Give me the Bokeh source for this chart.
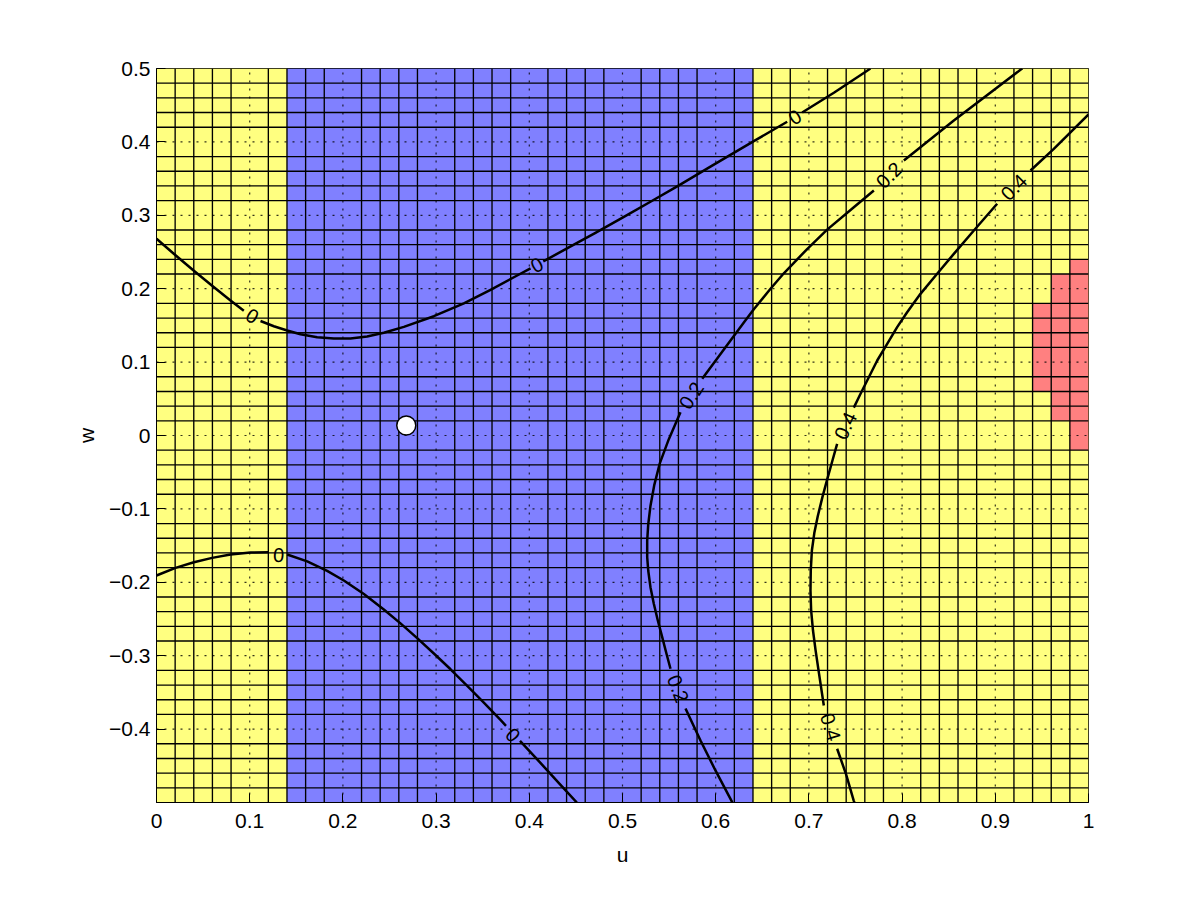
import math
from bokeh.plotting import figure
from bokeh.models import Range1d, FixedTicker, ColumnDataSource
from bokeh.core.properties import value
from bokeh.embed import file_html
from bokeh.resources import INLINE

nan = float("nan")

# ---- cell grid specification ----
N_U, N_W = 50, 50
U_MIN, U_MAX = 0.0, 1.0
W_MIN, W_MAX = -0.5, 0.5

# colour bands of the cells (u boundaries) and their colours
BAND_EDGES = [0.0, 0.14, 0.64, 1.0]
BAND_COLORS = ["#FFFF80", "#8080FF", "#FFFF80"]

# red cells: one column each (u_left, w_bottom, w_top)
RED_U_LEFT = [0.94, 0.96, 0.98]
RED_W_BOTTOM = [0.06, 0.02, -0.02]
RED_W_TOP = [0.18, 0.22, 0.24]
RED_COLOR = "#FF8080"

# ---- ticks ----
X_TICKS = [0, 0.1, 0.2, 0.3, 0.4, 0.5, 0.6, 0.7, 0.8, 0.9, 1]
X_TICK_LABELS = ["0", "0.1", "0.2", "0.3", "0.4", "0.5", "0.6", "0.7", "0.8", "0.9", "1"]
Y_TICKS = [-0.4, -0.3, -0.2, -0.1, 0, 0.1, 0.2, 0.3, 0.4, 0.5]
Y_TICK_LABELS = ["\u22120.4", "\u22120.3", "\u22120.2", "\u22120.1", "0", "0.1", "0.2", "0.3", "0.4", "0.5"]

# ---- contour lines (NaN = gap for inline label) ----
C0_UPPER_U = [0.0000, 0.0204, 0.0401, 0.0597, 0.0794, 0.0937, nan,
              0.1116, 0.1259, 0.1402, 0.1545, 0.1724, 0.1903, 0.2081, 0.2260, 0.2439, 0.2654, 0.2976,
              0.3298, 0.3584, 0.3870, 0.4013, nan,
              0.4150, 0.4424, 0.4700, 0.4996, 0.5300, 0.5587, 0.5980, 0.6409, 0.6767, nan,
              0.6928, 0.7268, 0.7625, 0.7660]
C0_UPPER_W = [0.2680, 0.2455, 0.2245, 0.2040, 0.1840, 0.1700, nan,
              0.1560, 0.1488, 0.1430, 0.1380, 0.1340, 0.1320, 0.1322, 0.1350, 0.1400, 0.1480, 0.1625,
              0.1800, 0.1985, 0.2180, 0.2277, nan,
              0.2372, 0.2562, 0.2755, 0.2965, 0.3185, 0.3395, 0.3690, 0.4010, 0.4275, nan,
              0.4400, 0.4670, 0.4970, 0.5000]

C0_LOWER_U = [0.0000, 0.0204, 0.0401, 0.0597, 0.0794, 0.1009, 0.1205, nan,
              0.1402, 0.1617, 0.1831, 0.2010, 0.2225, 0.2439, 0.2618, 0.2797, 0.2976, 0.3155, 0.3334,
              0.3512, 0.3691, 0.3750, nan,
              0.3900, 0.4156, 0.4335, 0.4510]
C0_LOWER_W = [-0.1907, -0.1803, -0.1726, -0.1667, -0.1621, -0.1594, -0.1590, nan,
              -0.1621, -0.1715, -0.1845, -0.1975, -0.2160, -0.2370, -0.2560, -0.2760, -0.2970, -0.3185, -0.3410,
              -0.3640, -0.3875, -0.3955, nan,
              -0.4160, -0.4510, -0.4760, -0.5000]

C02_U = [0.9290, 0.9270, 0.8555, 0.8019, nan,
         0.7697, 0.7482, 0.7196, 0.6981, 0.6731, 0.6588, 0.6409, 0.6302, 0.6159, 0.6016, 0.5855, nan,
         0.5622, 0.5497, 0.5400, 0.5340, 0.5300, 0.5276, 0.5265, 0.5265, 0.5276, 0.5300, 0.5336,
         0.5379, 0.5426, 0.5472, 0.5515, nan,
         0.5676, 0.5837, 0.6000, 0.6177, 0.6180]
C02_W = [0.5000, 0.4982, 0.4292, 0.3747, nan,
         0.3338, 0.3110, 0.2805, 0.2540, 0.2210, 0.2000, 0.1720, 0.1540, 0.1294, 0.1050, 0.0772, nan,
         0.0317, -0.0050, -0.0380, -0.0680, -0.0960, -0.1210, -0.1431, -0.1658, -0.1839, -0.2066, -0.2293,
         -0.2520, -0.2747, -0.2974, -0.3178, nan,
         -0.3720, -0.4155, -0.4570, -0.4996, -0.5000]

C04_U = [1.0000, 0.9628, 0.9378, nan,
         0.9020, 0.8770, 0.8555, 0.8376, 0.8197, 0.8054, 0.7947, 0.7840, 0.7733, 0.7643, 0.7554, 0.7482, nan,
         0.7303, 0.7255, 0.7200, 0.7145, 0.7095, 0.7058, 0.7032, 0.7020, 0.7017, 0.7024, 0.7044, 0.7071,
         0.7107, 0.7160, nan,
         0.7303, 0.7400, 0.7480, 0.7488]
C04_W = [0.4375, 0.3906, 0.3610, nan,
         0.3157, 0.2793, 0.2475, 0.2203, 0.1930, 0.1680, 0.1476, 0.1249, 0.1022, 0.0794, 0.0568, 0.0380, nan,
         -0.0114, -0.0330, -0.0580, -0.0840, -0.1100, -0.1330, -0.1567, -0.1839, -0.2112, -0.2384, -0.2657, -0.2920,
         -0.3230, -0.3678, nan,
         -0.4268, -0.4620, -0.4970, -0.5000]

# ---- inline contour labels ----
LABEL_U = [0.1027, 0.4080, 0.6848, 0.1310, 0.3825, 0.7860, 0.5738, 0.5596, 0.9200, 0.7392, 0.7232]
LABEL_W = [0.1630, 0.2325, 0.4338, -0.1630, -0.4080, 0.3545, 0.0545, -0.3449, 0.3383, 0.0133, -0.3973]
LABEL_TEXT = ["0", "0", "0", "0", "0", "0.2", "0.2", "0.2", "0.4", "0.4", "0.4"]
LABEL_ANGLE = [-30, 28, 33, -3, -47, 45, 57, -69, 45, 65, -73]

# ---- marker ----
MARKER_U = [0.268]
MARKER_W = [0.0136]

FONT = "Liberation Sans"

p = figure(
    frame_width=932, frame_height=734,
    x_range=Range1d(U_MIN, U_MAX), y_range=Range1d(W_MIN, W_MAX),
    output_backend="svg", toolbar_location=None,
    min_border_left=156, min_border_top=68, min_border_right=105, min_border_bottom=91,
    background_fill_color="white", border_fill_color="white",
)
p.outline_line_color = "black"
p.outline_line_width = 1
p.grid.grid_line_color = None

# cells (colour regions)
p.quad(left=BAND_EDGES[:-1], right=BAND_EDGES[1:], bottom=[W_MIN] * len(BAND_COLORS),
       top=[W_MAX] * len(BAND_COLORS), fill_color=BAND_COLORS, line_color=None)
du = (U_MAX - U_MIN) / N_U
p.quad(left=RED_U_LEFT, right=[u + du for u in RED_U_LEFT], bottom=RED_W_BOTTOM, top=RED_W_TOP,
       fill_color=RED_COLOR, line_color=None)

# cell edges (solid), except where a dotted grid line lies
dw = (W_MAX - W_MIN) / N_W
def on_tick(v, ticks):
    return any(abs(v - t) < 1e-9 for t in ticks)
mesh_u = [U_MIN + i * du for i in range(1, N_U) if not on_tick(U_MIN + i * du, X_TICKS)]
mesh_w = [W_MIN + j * dw for j in range(1, N_W) if not on_tick(W_MIN + j * dw, Y_TICKS)]
p.segment(x0=mesh_u, x1=mesh_u, y0=[W_MIN] * len(mesh_u), y1=[W_MAX] * len(mesh_u),
          line_color="black", line_width=1.35)
p.segment(x0=[U_MIN] * len(mesh_w), x1=[U_MAX] * len(mesh_w), y0=mesh_w, y1=mesh_w,
          line_color="black", line_width=1.35)

# dotted major grid
gx = [t for t in X_TICKS if U_MIN < t < U_MAX]
gy = [t for t in Y_TICKS if W_MIN < t < W_MAX]
p.segment(x0=gx, x1=gx, y0=[W_MIN] * len(gx), y1=[W_MAX] * len(gx),
          line_color="black", line_alpha=0.8, line_width=1.2, line_dash="2 6")
p.segment(x0=[U_MIN] * len(gy), x1=[U_MAX] * len(gy), y0=gy, y1=gy,
          line_color="black", line_alpha=0.8, line_width=1.2, line_dash="2 6")

# contour lines
for cu, cw in [(C0_UPPER_U, C0_UPPER_W), (C0_LOWER_U, C0_LOWER_W), (C02_U, C02_W), (C04_U, C04_W)]:
    p.line(cu, cw, line_color="black", line_width=2.5, line_join="round")

# inline labels
lab = ColumnDataSource(dict(x=LABEL_U, y=LABEL_W, text=LABEL_TEXT,
                            angle=[math.radians(a) for a in LABEL_ANGLE]))
p.text(x="x", y="y", text="text", angle="angle", source=lab,
       text_font=value(FONT), text_font_size="20px", text_color="black",
       text_align="center", text_baseline="middle")

# marker
p.scatter(MARKER_U, MARKER_W, size=19, fill_color="white", line_color="black", line_width=1.5)

# axes
for ax, ticks, labels in [(p.xaxis[0], X_TICKS, X_TICK_LABELS), (p.yaxis[0], Y_TICKS, Y_TICK_LABELS)]:
    ax.ticker = FixedTicker(ticks=ticks)
    ax.major_label_overrides = dict(zip(ticks, labels))
    ax.major_tick_in = 9
    ax.major_tick_out = 0
    ax.minor_tick_line_color = None
    ax.axis_line_color = "black"
    ax.major_tick_line_color = "black"
    ax.major_label_text_font = FONT
    ax.major_label_text_font_size = "21px"
    ax.major_label_text_color = "black"
    ax.axis_label_text_font = FONT
    ax.axis_label_text_font_size = "21px"
    ax.axis_label_text_font_style = "normal"
    ax.axis_label_text_color = "black"

p.xaxis.axis_label = "u"
p.yaxis.axis_label = "w"
p.xaxis.major_label_standoff = 11
p.yaxis.major_label_standoff = 6
p.xaxis.axis_label_standoff = 12
p.yaxis.axis_label_standoff = 8

open("out.html", "w").write(file_html(p, INLINE))
